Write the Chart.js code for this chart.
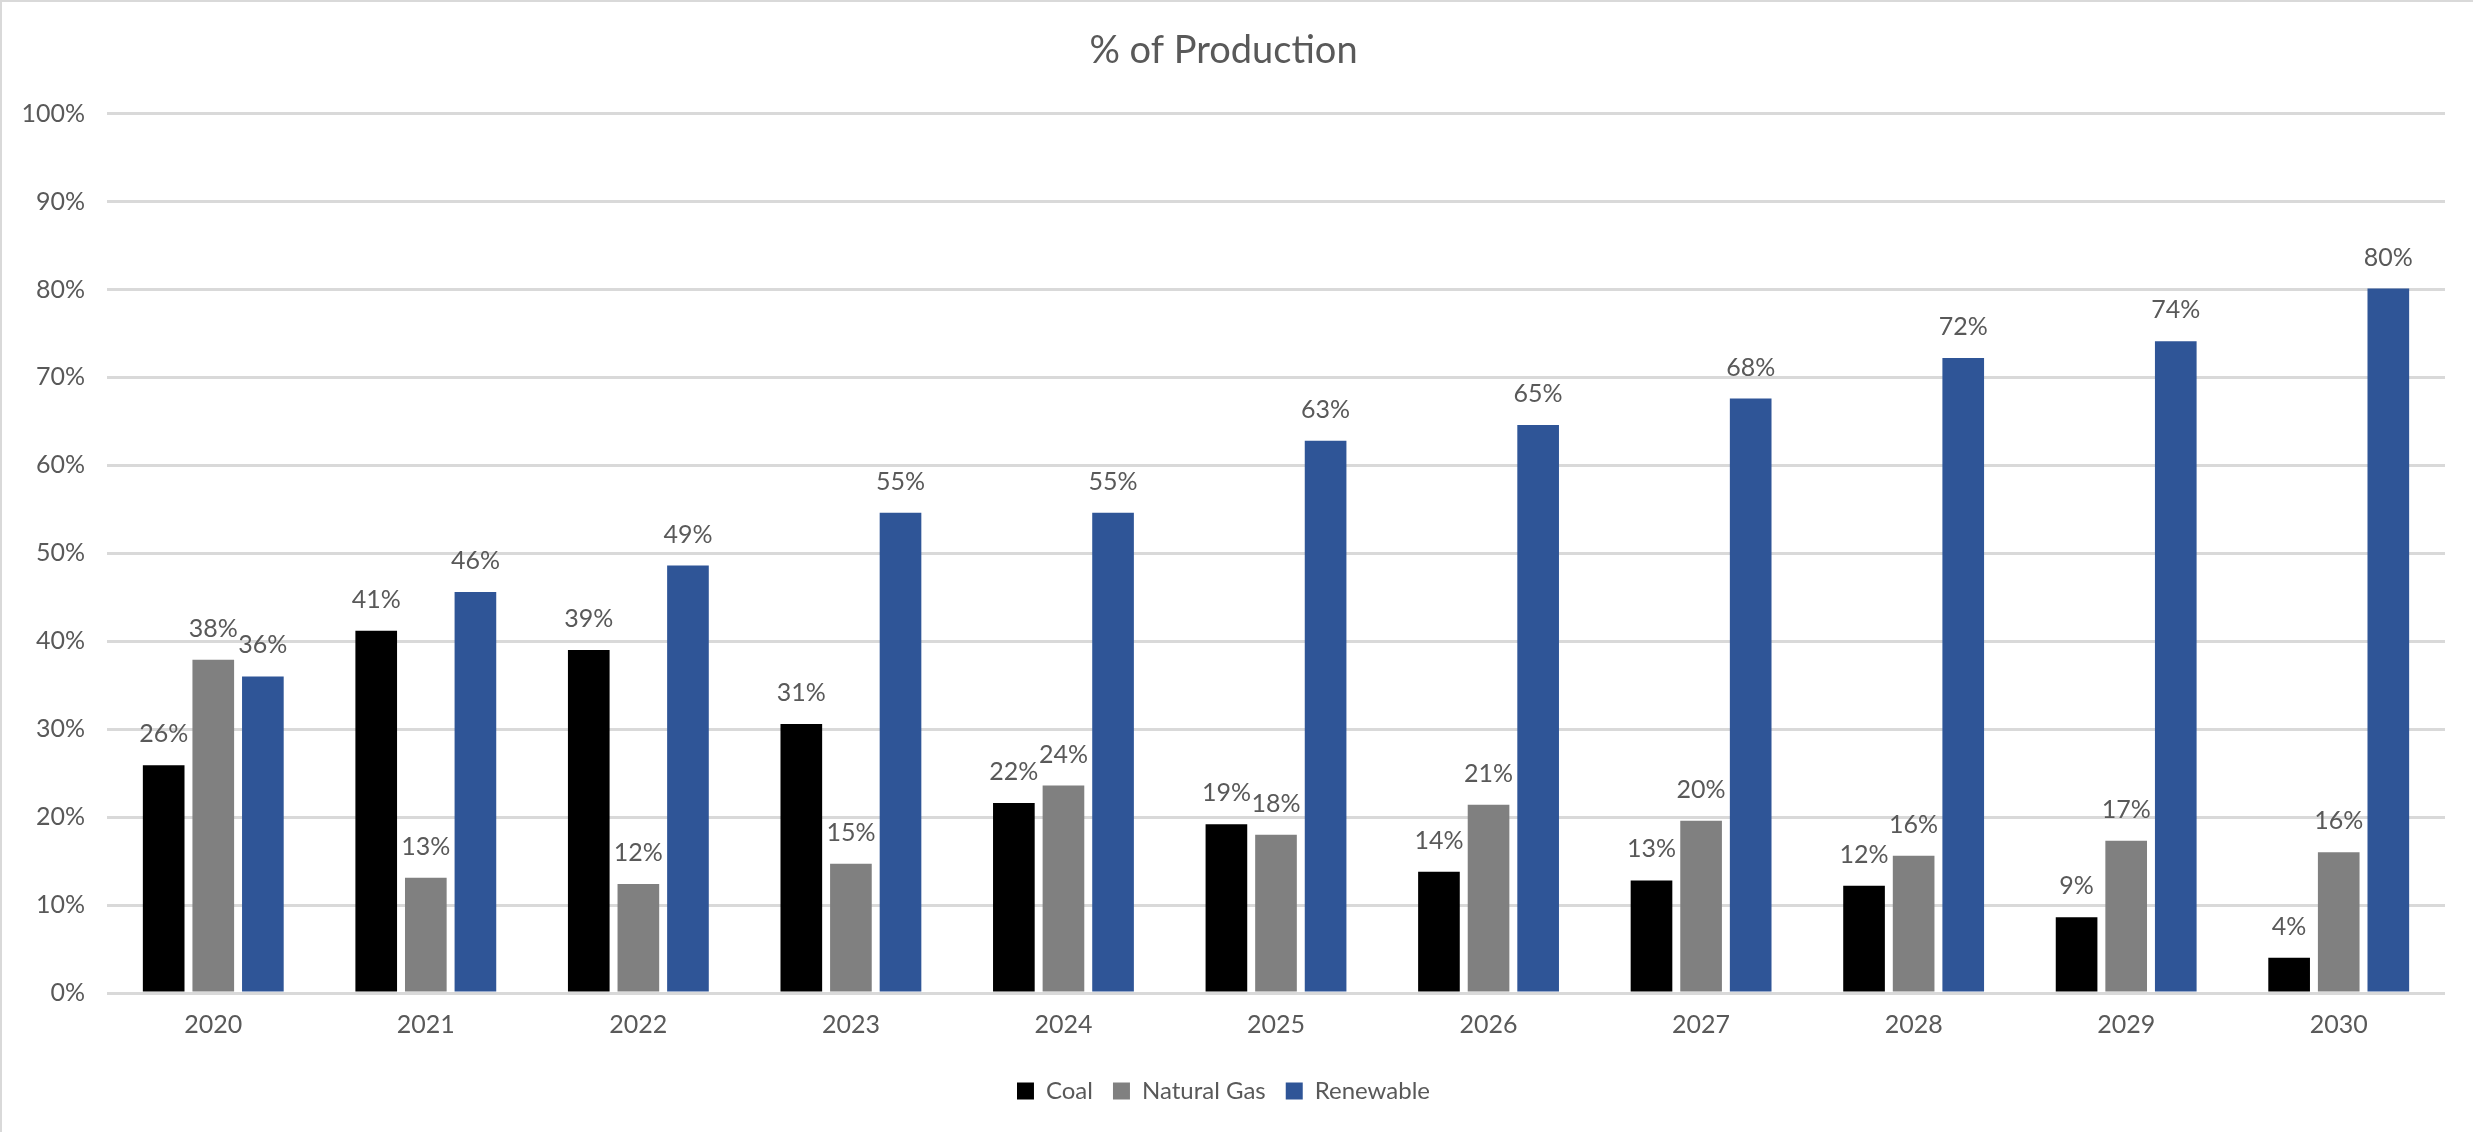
<!DOCTYPE html>
<html>
<head>
<meta charset="utf-8">
<title>% of Production</title>
<script src="https://cdn.jsdelivr.net/npm/chart.js@4.4.1/dist/chart.umd.min.js"></script>
<style>
    html, body { margin: 0; padding: 0; background: #fff; }
    #wrap {
        width: 2473px;
        height: 1132px;
        box-sizing: border-box;
        border-top: 2px solid #d9d9d9;
        border-left: 2px solid #d9d9d9;
        position: relative;
    }
</style>
</head>
<body>
<div id="wrap"><canvas id="productionChart"></canvas></div>
<script>
const years = ["2020", "2021", "2022", "2023", "2024", "2025", "2026", "2027", "2028", "2029", "2030"];
const coal = [25.9, 41.2, 39.0, 30.6, 21.6, 19.2, 13.8, 12.8, 12.2, 8.6, 4.0];
const naturalGas = [37.9, 13.1, 12.4, 14.7, 23.6, 18.0, 21.4, 19.6, 15.6, 17.3, 16.0];
const renewable = [36.0, 45.6, 48.6, 54.6, 54.6, 62.8, 64.6, 67.6, 72.2, 74.1, 80.1];
const yTicks = [0, 10, 20, 30, 40, 50, 60, 70, 80, 90, 100];

const textColor = "#595959";
const fontFamily = "Lato, 'Open Sans', sans-serif";

// Draw the rounded percentage above each bar
const barValueLabels = {
    id: "barValueLabels",
    afterDatasetsDraw(chart) {
        const ctx = chart.ctx;
        ctx.save();
        ctx.fillStyle = textColor;
        ctx.font = `25px ${fontFamily}`;
        ctx.textAlign = "center";
        ctx.textBaseline = "middle";
        chart.data.datasets.forEach((ds, i) => {
            const meta = chart.getDatasetMeta(i);
            meta.data.forEach((bar, j) => {
                ctx.fillText(Math.round(ds.data[j]) + "%", bar.x, bar.y - 31);
            });
        });
        ctx.restore();
    }
};

const ctx = document.getElementById("productionChart").getContext("2d");

new Chart(ctx, {
    type: "bar",
    data: {
        labels: years,
        datasets: [
            { label: "Coal", data: coal, backgroundColor: "#000000" },
            { label: "Natural Gas", data: naturalGas, backgroundColor: "#808080" },
            { label: "Renewable", data: renewable, backgroundColor: "#2f5597" }
        ]
    },
    options: {
        responsive: true,
        maintainAspectRatio: false,
        animation: false,
        datasets: {
            bar: { categoryPercentage: 0.70, barPercentage: 0.84 }
        },
        layout: { padding: { top: 0, right: 28, bottom: 19, left: 0 } },
        plugins: {
            title: {
                display: true,
                text: "% of Production",
                color: textColor,
                font: { family: fontFamily, size: 38, weight: "normal" },
                padding: { top: 26, bottom: 40 }
            },
            legend: {
                position: "bottom",
                labels: {
                    color: textColor,
                    font: { family: fontFamily, size: 24 },
                    boxWidth: 17,
                    boxHeight: 17,
                    padding: 20
                }
            },
            tooltip: { enabled: false }
        },
        scales: {
            x: {
                grid: { display: false, drawTicks: false },
                border: { display: false },
                ticks: {
                    color: textColor,
                    font: { family: fontFamily, size: 25 },
                    padding: 17
                },
                afterFit(scale) { scale.height = 66; }
            },
            y: {
                min: 0,
                max: 100,
                afterBuildTicks(scale) {
                    scale.ticks = yTicks.map(v => ({ value: v }));
                },
                grid: { color: "#d9d9d9", lineWidth: 3, drawTicks: false },
                border: { display: false },
                ticks: {
                    color: textColor,
                    font: { family: fontFamily, size: 25 },
                    padding: 22,
                    callback: v => v + "%"
                },
                afterFit(scale) { scale.width = 105; }
            }
        }
    },
    plugins: [barValueLabels]
});
</script>
</body>
</html>
